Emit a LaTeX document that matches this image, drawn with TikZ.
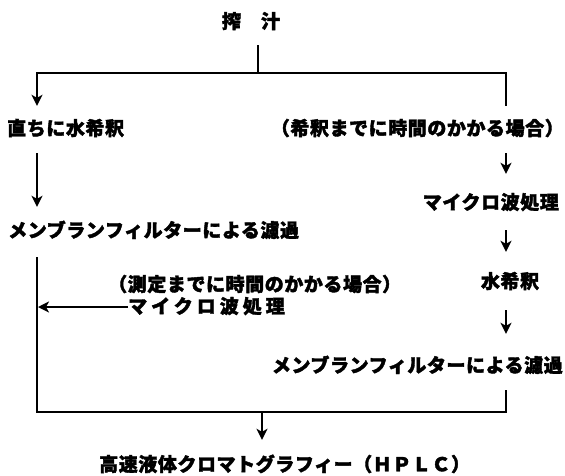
\documentclass[tikz,border=0pt]{standalone}
\usepackage{fontspec}
\usepackage{tikz}
\usetikzlibrary{arrows.meta}
\usetikzlibrary{positioning}
\newfontfamily\jp{Noto Sans CJK JP}[FakeBold=2]
\tikzset{txt/.style = {font={\jp\bfseries\fontsize{19}{19}\selectfont\addfontfeatures{LetterSpace=#1}},
                       inner sep=0pt, text height=13.5pt, text depth=1pt},
         txt/.default = 3}
\tikzset{ln/.style = {line width=2.2pt}}
\tikzset{flow/.style = {line width=2.2pt,
                        -{Stealth[length=11pt, width=11pt, inset=3pt]}}}

\begin{document}
\begin{tikzpicture}[x=1pt, y=-1pt]
      \useasboundingbox (0, 0) rectangle (565, 475);

      \coordinate (colL) at (37, 0);
      \coordinate (colR) at (506, 0);
      \coordinate (split) at (258, 73);
      \coordinate (merge) at (262, 412);

      \node [txt] (juice) at (251, 22) {搾　汁};
      \node [txt, anchor=west] (direct) at (7, 129) {直ちに水希釈};
      \node [txt, anchor=east] (delay) at (564, 129) {（希釈までに時間のかかる場合）};
      \node [txt, anchor=east] (mwR) at (559, 203) {マイクロ波処理};
      \node [txt, anchor=west] (filtL) at (8, 231) {メンブランフィルターによる濾過};
      \node [txt, anchor=west] (wait) at (108, 285) {（測定までに時間のかかる場合）};
      \node [txt] (dilR) at (510, 282) {水希釈};
      \node [txt=21, anchor=west] (mwL) at (128, 307) {マイクロ波処理};
      \node [txt, anchor=east] (filtR) at (563, 366) {メンブランフィルターによる濾過};
      \node [txt, anchor=west] (hplc) at (99, 465) {高速液体クロマトグラフィー（ＨＰＬＣ）};

      \draw [ln, shorten <=16pt] (juice.south -| split) -- (split);
      \draw [flow, shorten >=15.75pt] (split) -| (direct.north -| colL);
      \draw [ln, shorten >=15.75pt] (split) -| (delay.north -| colR);

      \draw [flow, shorten <=16.75pt, shorten >=16.75pt] (direct.south -| colL) -- (filtL.north -| colL);
      \draw [ln, shorten <=18.75pt, shorten >=16.75pt] (filtL.south -| colL) |- (merge) -| (filtR.south -| colR);
      \draw [flow, shorten >=1pt] (mwL.west) -- (mwL.west -| colL);

      \draw [flow, shorten <=16.75pt, shorten >=21.75pt] (delay.south -| colR) -- (mwR.north -| colR);
      \draw [flow, shorten <=19.75pt, shorten >=22.75pt] (mwR.south -| colR) -- (dilR.north -| colR);
      \draw [flow, shorten <=20.75pt, shorten >=24.75pt] (dilR.south -| colR) -- (filtR.north -| colR);

      \draw [flow, shorten >=17.75pt] (merge) -- (hplc.north -| merge);
    \end{tikzpicture}
\end{document}
